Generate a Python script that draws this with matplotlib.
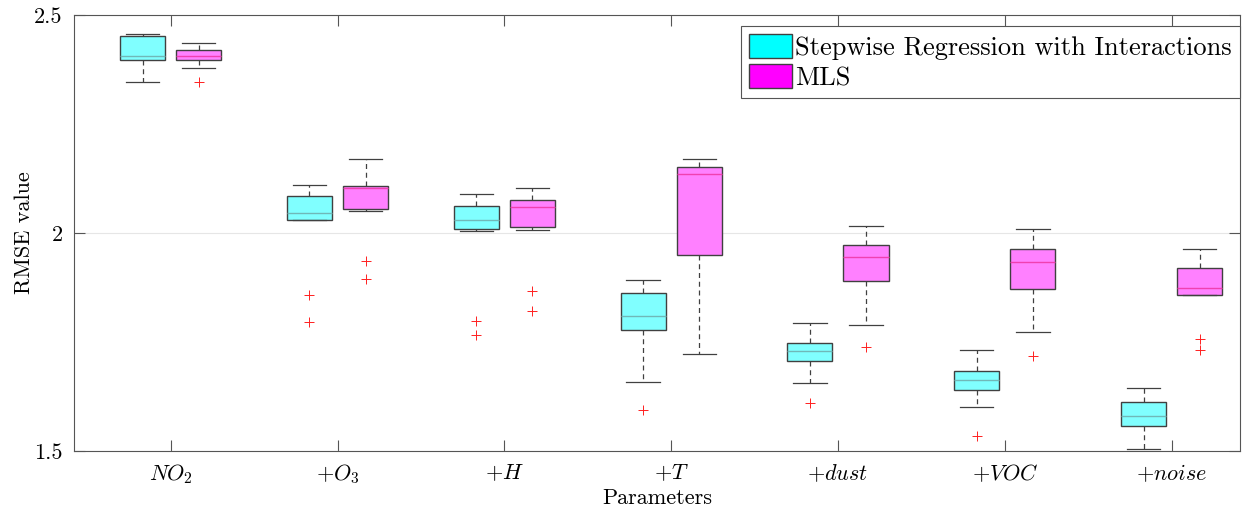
import numpy as np
import matplotlib.pyplot as plt
from matplotlib.patches import Patch

plt.rcParams['font.family'] = 'serif'
plt.rcParams['font.serif'] = ['cmr10']
plt.rcParams['mathtext.fontset'] = 'cm'
plt.rcParams['axes.formatter.use_mathtext'] = True

# kategorie
labels = [r'$NO_2$', r'$+O_3$', r'$+H$', r'$+T$', r'$+dust$', r'$+VOC$', r'$+noise$']

# Stepwise Regression with Interactions
sw_whislo = [2.346, 2.029, 2.005, 1.658, 1.656, 1.601, 1.504]
sw_q1     = [2.396, 2.030, 2.009, 1.778, 1.707, 1.640, 1.557]
sw_med    = [2.406, 2.047, 2.029, 1.810, 1.729, 1.663, 1.580]
sw_q3     = [2.452, 2.085, 2.062, 1.862, 1.747, 1.683, 1.612]
sw_whishi = [2.456, 2.110, 2.089, 1.892, 1.794, 1.732, 1.644]
sw_fliers = [[], [1.858, 1.796], [1.799, 1.766], [1.594], [1.611], [1.534], []]

# MLS
mls_whislo = [2.379, 2.050, 2.008, 1.722, 1.789, 1.772, 1.859]
mls_q1     = [2.396, 2.056, 2.014, 1.949, 1.890, 1.872, 1.859]
mls_med    = [2.407, 2.103, 2.059, 2.135, 1.944, 1.933, 1.875]
mls_q3     = [2.420, 2.109, 2.076, 2.151, 1.972, 1.964, 1.920]
mls_whishi = [2.437, 2.171, 2.103, 2.170, 2.016, 2.010, 1.963]
mls_fliers = [[2.346], [1.936, 1.894], [1.868, 1.821], [], [1.739], [1.717], [1.758, 1.732]]


def stats(lo, q1, med, q3, hi, fl):
    return [dict(whislo=a, q1=b, med=c, q3=d, whishi=e, fliers=f)
            for a, b, c, d, e, f in zip(lo, q1, med, q3, hi, fl)]


fig = plt.figure(figsize=(12.47, 5.14), dpi=100)
ax = fig.add_axes([0.0593, 0.1226, 0.9351, 0.848])

x = np.arange(1, len(labels) + 1)
edge = '#404040'
for st, pos, fc, mc in [
        (stats(sw_whislo, sw_q1, sw_med, sw_q3, sw_whishi, sw_fliers), x - 0.168, '#80ffff', '#70b8b8'),
        (stats(mls_whislo, mls_q1, mls_med, mls_q3, mls_whishi, mls_fliers), x + 0.168, '#ff80ff', '#f040b0')]:
    ax.bxp(st, positions=pos, widths=0.27, patch_artist=True, manage_ticks=False,
           boxprops=dict(facecolor=fc, edgecolor=edge, linewidth=1.0),
           medianprops=dict(color=mc, linewidth=1.0),
           whiskerprops=dict(color=edge, linestyle=(0, (4, 3)), linewidth=0.9),
           capprops=dict(color=edge, linewidth=0.9),
           capwidths=0.2,
           flierprops=dict(marker='+', markeredgecolor='#ff2020', markersize=7,
                           markeredgewidth=0.7, linestyle='none'))

ax.set_xlim(0.42, 7.41)
ax.set_ylim(1.5, 2.5)
ax.set_xticks(x)
ax.set_xticklabels(labels, fontsize=16)
ax.set_yticks([1.5, 2, 2.5])
ax.set_yticklabels(['1.5', '2', '2.5'], fontsize=16)
ax.tick_params(direction='in', top=True, right=True, length=8, color='#555555', pad=8)
ax.yaxis.grid(True, color='#e6e6e6', linewidth=0.8)
ax.set_axisbelow(True)
for s in ax.spines.values():
    s.set_color('#555555')

ax.set_xlabel('Parameters', fontsize=16, labelpad=2)
ax.set_ylabel('RMSE value', fontsize=16, labelpad=0)

handles = [Patch(facecolor='#00ffff', edgecolor='#404040', label='Stepwise Regression with Interactions'),
           Patch(facecolor='#ff00ff', edgecolor='#404040', label='MLS')]
leg = ax.legend(handles=handles, loc='upper right', bbox_to_anchor=(1.0, 0.974), fontsize=19,
                fancybox=False, framealpha=1, edgecolor='#555555', handlelength=1.6,
                handleheight=1.0, handletextpad=0.15, borderpad=0.3, labelspacing=0.15,
                borderaxespad=0)
leg.get_frame().set_linewidth(0.8)

plt.savefig('out.png')
